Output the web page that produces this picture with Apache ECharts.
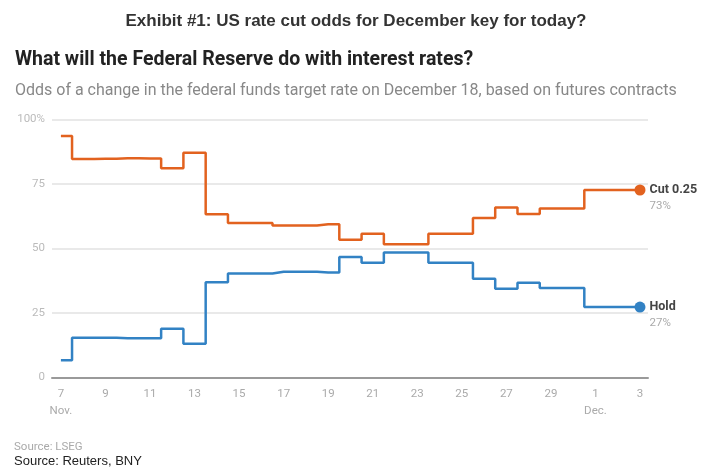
<!DOCTYPE html>
<html>
<head>
<meta charset="utf-8">
<script src="https://cdn.jsdelivr.net/npm/echarts@6/dist/echarts.min.js"></script>
<style>
html,body{margin:0;padding:0;background:#fff;}
#c{width:712px;height:467px;}
</style>
</head>
<body>
<div id="c"></div>
<script>
// Days from Nov 7 to Dec 3
const dayLabels = ['7','8','9','10','11','12','13','14','15','16','17','18','19','20','21','22','23','24','25','26','27','28','29','30','1','2','3'];
const monthLabels = {0:'Nov.', 24:'Dec.'};
const cutValues  = [93.5,84.6,84.7,84.9,84.8,81.0,87.0,63.2,59.8,59.8,58.8,58.8,59.3,53.3,55.6,51.6,51.6,55.6,55.6,61.7,65.8,63.3,65.4,65.4,72.6,72.6,72.6];
const holdValues = [6.6,15.3,15.3,15.1,15.1,18.8,13.0,36.8,40.2,40.2,40.9,40.9,40.6,46.6,44.4,48.4,48.4,44.4,44.4,38.2,34.3,36.6,34.6,34.6,27.2,27.2,27.2];
const yTicks = [0,25,50,75,100];
const xTickIdx = [0,2,4,6,8,10,12,14,16,18,20,22,24,26];
const cutLabel = ['Cut 0.25','73%'];
const holdLabel = ['Hold','27%'];

const toPairs = arr => arr.map((v,i)=>[i,v]);
const last = dayLabels.length-1;
const orange = '#e2621f';
const blue = '#3282c4';

const endLabel = (t) => ({
  show:true,position:'right',distance:4,align:'left',offset:[0,8],
  formatter:'{a|'+t[0]+'}\n{b|'+t[1]+'}',
  rich:{a:{fontFamily:'Roboto',fontWeight:'bold',fontSize:12.5,color:'#444',lineHeight:16},
        b:{fontFamily:'Roboto',fontSize:11.5,color:'#aaa',lineHeight:16}}
});

const chart = echarts.init(document.getElementById('c'));
chart.setOption({
  animation:false,
  backgroundColor:'#fff',
  title:[
    {text:'Exhibit #1: US rate cut odds for December key for today?',left:'center',top:8,
     textStyle:{fontFamily:'Liberation Sans',fontWeight:'bold',fontSize:17,color:'#333'}},
    {text:'What will the Federal Reserve do with interest rates?',left:10,top:45,
     textStyle:{fontFamily:'Roboto',fontWeight:'bold',fontSize:19.5,color:'#222'}},
    {text:'Odds of a change in the federal funds target rate on December 18, based on futures contracts',left:10,top:78,
     textStyle:{fontFamily:'Roboto',fontWeight:'normal',fontSize:16,color:'#888'}},
    {text:'Source: LSEG',left:9,top:436,
     textStyle:{fontFamily:'Roboto',fontWeight:'normal',fontSize:11.5,color:'#aaa'}},
    {text:'Source: Reuters, BNY',left:9,top:450,
     textStyle:{fontFamily:'Liberation Sans',fontWeight:'normal',fontSize:13,color:'#222'}}
  ],
  grid:{left:52,right:64,top:119.3,bottom:89.7,containLabel:false},
  xAxis:{
    type:'value',min:-0.4,max:26.36,
    axisLine:{show:true,lineStyle:{color:'#9a9a9a',width:2}},
    axisTick:{show:false},
    splitLine:{show:false},
    axisLabel:{customValues:xTickIdx,margin:8,color:'#aaa',fontFamily:'Roboto',fontSize:11.5,lineHeight:17,
      formatter:v=>{const i=Math.round(v);return dayLabels[i]+(monthLabels[i]?'\n'+monthLabels[i]:'');}}
  },
  yAxis:{
    type:'value',min:0,max:100,interval:25,
    axisLine:{show:false},axisTick:{show:false},
    splitLine:{lineStyle:{color:'#e2e2e2',width:1.5}},
    axisLabel:{margin:7,color:'#bbb',fontFamily:'Roboto',fontSize:11.5,
      formatter:v=>v===100?'100%':String(v)}
  },
  series:[
    {type:'line',name:'Cut 0.25',step:'middle',data:toPairs(cutValues),showSymbol:false,
     lineStyle:{color:orange,width:2.5},itemStyle:{color:orange},z:3,
     markPoint:{symbol:'circle',symbolSize:11,itemStyle:{color:orange},
       data:[{coord:[last,cutValues[last]],label:endLabel(cutLabel)}]}},
    {type:'line',name:'Hold',step:'middle',data:toPairs(holdValues),showSymbol:false,
     lineStyle:{color:blue,width:2.5},itemStyle:{color:blue},z:3,
     markPoint:{symbol:'circle',symbolSize:11,itemStyle:{color:blue},
       data:[{coord:[last,holdValues[last]],label:endLabel(holdLabel)}]}}
  ]
});
</script>
</body>
</html>
